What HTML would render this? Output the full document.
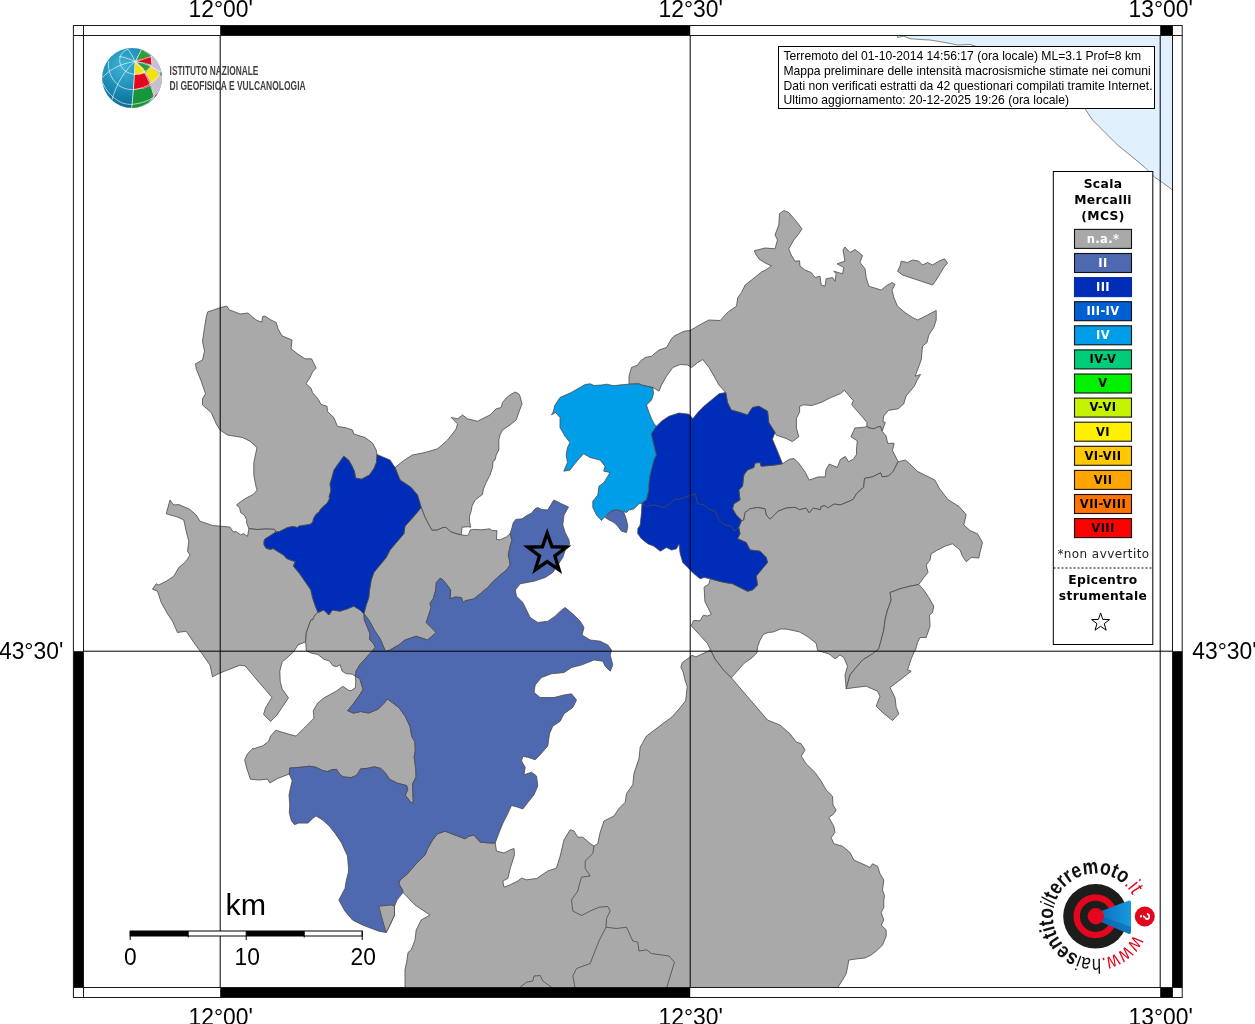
<!DOCTYPE html>
<html lang="it"><head><meta charset="utf-8"><title>Mappa intensità macrosismiche</title>
<style>
html,body{margin:0;padding:0;background:#fff}
body{width:1255px;height:1024px;overflow:hidden;position:relative}
svg{display:block;position:absolute;left:0;top:0}
text{font-family:"Liberation Sans",sans-serif}
.ax{font-size:24.2px;fill:#000}
.dv,.dv text{font-family:"DejaVu Sans",sans-serif}
.lg{font-family:"DejaVu Sans",sans-serif;font-weight:bold;font-size:11.5px;text-anchor:middle;letter-spacing:0.4px}
.info{font-size:12.15px;fill:#000}
</style></head><body>
<svg width="1255" height="1024" viewBox="0 0 1255 1024">
<defs><clipPath id="mapclip"><rect x="83.5" y="35.5" width="1089" height="952"/></clipPath>
<radialGradient id="gl" cx="0.35" cy="0.3" r="0.8"><stop offset="0" stop-color="#3fb4d6"/><stop offset="0.6" stop-color="#1583ac"/><stop offset="1" stop-color="#0a5d86"/></radialGradient>
<linearGradient id="cone" x1="0" x2="1" y1="0" y2="0"><stop offset="0" stop-color="#0a6fc0"/><stop offset="1" stop-color="#1a9ade"/></linearGradient>
</defs>
<rect width="1255" height="1024" fill="#fff"/>
<g clip-path="url(#mapclip)">

<path d="M897.5 37.5 L903.7 36.2 L910.0 38.7 L920.0 39.5 L930.0 40.0 L945.0 42.5 L957.5 45.0 L970.0 44.5 L975.0 46.0 L1085.0 108.7 L1092.5 120.0 L1105.0 132.5 L1117.5 145.0 L1130.0 155.0 L1145.0 167.5 L1155.0 177.5 L1162.5 182.5 L1172.5 190.0 L1180.0 190.0 L1180.0 30.0 L897.5 30.0Z" fill="#e0f1fd" stroke="#6a6a6a" stroke-width="0.8"/>
<path d="M403.0 892.5 L402.5 890.0 L398.8 883.8 L400.0 880.0 L407.5 873.8 L415.0 865.0 L425.0 855.0 L427.5 848.8 L432.5 840.0 L437.5 833.8 L445.0 831.2 L455.0 835.0 L465.0 838.8 L468.8 836.2 L473.8 835.0 L480.0 842.0 L490.0 843.0 L495.2 843.0 L496.5 851.0 L504.0 853.0 L510.2 849.8 L514.0 848.5 L514.5 854.8 L510.2 868.5 L507.8 878.5 L502.8 881.0 L504.0 887.2 L510.2 884.8 L517.8 881.0 L521.5 878.0 L526.5 879.8 L536.5 878.5 L547.8 871.0 L556.5 868.0 L560.2 856.0 L564.0 839.8 L570.2 829.8 L574.0 831.0 L577.8 837.2 L582.8 837.2 L590.2 843.5 L594.0 846.0 L597.8 843.5 L600.2 832.2 L604.0 821.0 L614.0 816.0 L619.0 808.5 L625.2 802.2 L626.5 793.5 L632.8 784.8 L634.0 773.5 L639.0 758.5 L640.2 747.2 L646.5 736.0 L662.4 724.0 L672.0 716.9 L678.4 709.7 L685.6 700.9 L686.4 694.5 L687.2 686.5 L684.8 679.3 L683.2 672.1 L680.8 667.3 L682.4 662.5 L688.0 658.5 L692.0 655.3 L696.0 656.9 L700.8 654.5 L706.4 652.1 L710.5 649.7 L715.3 659.3 L723.3 669.7 L731.3 677.7 L745.0 693.8 L760.0 711.2 L767.5 720.0 L780.0 725.0 L790.0 733.8 L796.2 742.0 L801.2 743.8 L805.0 750.0 L801.2 756.2 L806.2 763.8 L815.0 772.5 L821.2 781.2 L826.2 790.0 L832.5 796.2 L833.0 805.0 L836.2 810.0 L833.8 813.8 L828.8 817.5 L833.8 826.2 L835.0 832.5 L831.2 837.5 L833.8 843.8 L842.5 846.2 L850.0 852.5 L853.8 860.0 L865.0 865.0 L870.0 867.5 L872.5 863.8 L877.5 866.2 L880.0 873.8 L883.8 880.0 L882.5 890.0 L884.5 895.8 L883.8 900.0 L883.8 907.5 L881.2 912.5 L883.8 920.0 L881.2 925.0 L886.2 930.0 L886.2 936.2 L882.5 945.0 L877.5 950.0 L871.2 955.0 L865.0 958.0 L857.5 958.8 L848.8 960.0 L847.5 967.5 L846.2 973.8 L842.5 980.0 L836.2 990.0 L405.0 990.0 L405.0 970.0 L407.0 960.0 L408.0 952.5 L411.2 950.0 L415.0 940.0 L416.2 930.0 L421.2 920.0 L430.0 915.0 L415.0 905.0Z" fill="#a9a9a9" stroke="#4a4a4a" stroke-width="0.8" stroke-linejoin="round"/>
<path d="M207.5 312.0 L215.0 309.5 L220.5 307.5 L227.0 306.2 L229.5 310.0 L235.0 312.0 L240.0 314.0 L248.0 313.0 L252.5 317.0 L257.0 320.5 L262.0 322.0 L262.5 316.5 L265.0 316.0 L270.0 319.5 L276.2 322.5 L278.0 328.8 L282.0 335.8 L292.0 340.0 L291.0 348.8 L297.5 353.8 L305.0 358.8 L311.5 358.8 L316.2 368.0 L312.5 372.0 L310.0 377.5 L306.0 383.8 L311.0 388.2 L312.5 392.5 L318.5 399.5 L321.0 404.5 L327.0 406.2 L327.5 411.5 L333.8 417.5 L337.5 426.5 L345.0 427.5 L352.5 430.0 L353.8 434.0 L365.0 437.5 L372.5 443.0 L376.2 450.0 L377.0 454.5 L376.5 462.5 L374.0 468.5 L369.5 475.0 L361.5 479.2 L355.5 478.0 L354.5 471.5 L351.5 465.0 L348.5 460.0 L343.8 456.2 L340.0 461.5 L334.0 470.0 L332.0 477.5 L330.0 484.0 L331.0 490.0 L329.0 497.5 L330.0 497.8 L327.5 502.7 L321.7 508.0 L319.7 510.5 L319.2 512.0 L316.3 514.0 L313.4 518.8 L312.9 522.2 L310.0 524.4 L299.2 526.1 L297.3 527.6 L295.3 526.9 L292.4 526.6 L287.5 527.6 L279.7 531.5 L275.3 532.2 L275.6 530.5 L273.8 529.3 L266.0 529.0 L257.2 529.5 L251.4 528.9 L248.9 528.9 L246.7 523.2 L246.5 519.3 L244.5 515.4 L240.6 512.5 L239.6 507.6 L236.5 505.1 L240.6 501.7 L246.5 497.8 L253.3 494.4 L257.2 490.0 L256.2 487.5 L253.8 475.0 L253.8 462.5 L257.0 447.5 L250.0 441.2 L242.5 437.5 L227.5 435.0 L220.0 430.0 L216.2 423.8 L211.2 412.5 L202.5 405.0 L202.5 398.8 L205.5 393.8 L201.2 381.2 L196.2 368.8 L195.5 363.8 L202.5 360.0 L204.5 351.2 L202.5 341.2 L204.5 327.5 L206.2 317.5Z" fill="#a9a9a9" stroke="#4a4a4a" stroke-width="0.8" stroke-linejoin="round"/>
<path d="M248.9 528.9 L247.5 536.4 L243.6 533.5 L240.6 534.9 L236.2 531.5 L233.3 532.0 L229.9 527.1 L225.0 526.6 L220.5 526.2 L212.5 525.5 L200.0 521.2 L196.2 515.0 L190.0 509.5 L178.8 504.5 L173.8 505.0 L170.0 500.0 L166.2 513.8 L177.5 517.0 L183.8 520.0 L186.2 531.2 L188.8 541.2 L187.5 551.2 L190.0 555.0 L186.2 561.2 L178.8 567.5 L173.8 576.2 L166.2 581.2 L158.8 585.0 L156.2 583.8 L152.5 589.2 L157.5 591.2 L161.2 602.5 L167.5 613.8 L172.5 621.2 L177.5 632.5 L186.2 631.2 L193.8 642.5 L201.2 652.5 L210.0 665.0 L212.5 676.8 L220.0 673.0 L227.5 670.0 L240.0 665.2 L245.1 665.9 L259.1 682.5 L271.9 697.2 L265.5 708.0 L263.6 714.4 L270.6 721.4 L277.0 715.0 L288.5 697.8 L282.1 688.9 L280.2 681.2 L279.8 671.0 L282.1 662.1 L293.6 651.9 L298.0 644.9 L305.7 641.9 L306.3 632.8 L310.8 620.0 L312.5 620.0 L315.0 615.0 L318.0 612.5 L315.0 605.0 L312.5 597.5 L310.9 590.0 L306.0 582.8 L299.2 573.0 L293.4 566.2 L295.3 561.3 L292.4 560.8 L286.5 558.4 L283.6 554.9 L277.7 551.5 L273.3 548.6 L269.9 549.4 L266.0 548.1 L264.0 544.7 L264.0 541.8 L264.6 539.3 L269.9 535.9 L274.8 532.8 L275.3 532.2 L275.6 530.5 L273.8 529.3 L266.0 529.0 L257.2 529.5 L251.4 528.9Z" fill="#a9a9a9" stroke="#4a4a4a" stroke-width="0.8" stroke-linejoin="round"/>
<path d="M318.0 612.5 L323.8 610.0 L328.8 615.0 L332.5 610.0 L340.0 611.2 L347.5 608.8 L353.8 606.2 L360.0 610.0 L363.8 613.8 L364.4 620.0 L367.6 627.7 L370.1 634.0 L369.5 639.1 L373.9 644.2 L375.2 647.4 L371.4 651.9 L359.9 664.6 L356.1 671.0 L355.4 676.1 L352.2 674.2 L345.9 673.6 L342.0 671.0 L340.1 664.6 L336.9 666.6 L333.1 665.9 L329.3 660.8 L324.2 659.5 L317.8 654.4 L311.4 653.2 L306.3 650.6 L305.7 641.9 L306.3 632.8 L310.8 620.0 L312.5 620.0 L315.0 615.0Z" fill="#a9a9a9" stroke="#4a4a4a" stroke-width="0.8" stroke-linejoin="round"/>
<path d="M421.2 507.5 L421.9 508.8 L425.0 516.9 L428.8 524.4 L431.9 530.1 L437.5 529.8 L443.2 527.3 L446.3 527.5 L450.1 531.3 L455.1 533.2 L461.3 534.8 L467.6 535.7 L469.5 532.6 L470.1 530.1 L473.8 529.4 L481.4 529.8 L490.1 528.8 L491.4 530.3 L497.0 530.7 L496.4 539.4 L500.1 539.8 L506.4 536.9 L510.1 533.8 L512.0 540.0 L510.1 546.3 L508.3 555.1 L509.5 560.1 L510.1 565.1 L506.4 570.1 L500.1 575.1 L492.6 582.0 L487.6 587.6 L480.1 593.9 L473.8 598.9 L465.1 600.8 L463.2 602.6 L461.3 597.6 L455.1 597.0 L450.1 598.9 L450.7 590.1 L448.2 586.4 L442.6 579.5 L440.1 578.2 L436.3 582.6 L435.7 590.1 L433.2 598.9 L430.0 603.3 L431.2 607.5 L426.2 622.5 L436.2 632.5 L427.5 640.0 L416.2 636.2 L405.0 640.0 L398.7 645.0 L390.0 650.0 L386.2 651.2 L385.4 651.3 L380.3 639.1 L375.2 631.5 L368.8 620.0 L364.0 613.8 L366.2 605.0 L368.8 597.5 L369.5 590.0 L371.2 580.0 L373.8 572.5 L380.0 565.0 L386.2 557.5 L390.0 550.0 L397.5 541.2 L403.8 533.8 L405.0 526.2 L415.0 515.0Z" fill="#a9a9a9" stroke="#4a4a4a" stroke-width="0.8" stroke-linejoin="round"/>
<path d="M395.0 467.5 L401.2 462.5 L406.2 458.8 L412.5 455.0 L425.0 452.5 L437.5 448.8 L442.5 444.5 L447.5 440.0 L452.5 433.8 L456.2 428.8 L457.5 423.8 L451.2 417.5 L457.5 418.8 L462.5 415.0 L467.5 418.8 L477.5 421.2 L483.8 418.0 L490.0 415.0 L496.2 408.8 L501.2 407.5 L502.5 402.5 L506.2 398.0 L510.0 395.0 L515.0 392.0 L518.8 393.8 L520.0 396.2 L522.0 403.8 L518.8 412.5 L516.2 420.0 L510.0 425.0 L502.5 430.0 L500.0 435.0 L498.8 440.0 L498.8 450.0 L496.2 455.0 L495.0 460.0 L493.0 461.2 L492.5 467.5 L490.0 475.0 L486.2 482.5 L483.0 490.0 L483.2 490.0 L482.6 494.4 L475.1 500.0 L472.0 506.3 L471.3 510.7 L469.5 516.3 L469.5 521.3 L470.7 527.2 L467.6 526.7 L462.0 527.3 L461.3 534.8 L455.1 533.2 L450.1 531.3 L446.3 527.5 L443.2 527.3 L437.5 529.8 L431.9 530.1 L428.8 524.4 L425.0 516.9 L421.9 508.8 L421.2 507.5 L417.5 495.0 L411.2 487.5 L400.0 480.0Z" fill="#a9a9a9" stroke="#4a4a4a" stroke-width="0.8" stroke-linejoin="round"/>
<path d="M355.4 676.1 L355.8 681.0 L355.4 687.6 L351.0 690.8 L348.4 690.2 L342.7 686.3 L336.9 690.8 L324.2 697.8 L317.8 702.9 L313.3 710.6 L314.0 718.2 L310.2 722.0 L303.8 728.4 L296.1 736.1 L291.0 734.8 L275.7 730.3 L270.6 736.1 L268.7 741.2 L263.0 745.7 L253.0 749.0 L253.1 748.2 L247.5 753.7 L244.7 760.1 L246.7 768.1 L250.4 779.2 L258.7 780.0 L267.5 779.2 L269.8 782.9 L277.8 778.4 L289.3 774.0 L289.8 768.1 L300.1 767.3 L309.7 766.2 L316.1 767.3 L322.4 770.5 L327.2 771.6 L332.0 769.7 L336.5 769.4 L339.2 773.7 L343.1 776.9 L351.1 777.6 L356.7 775.3 L360.7 768.9 L367.1 768.4 L374.2 766.8 L380.6 768.4 L385.4 772.9 L389.4 779.2 L397.3 783.2 L406.6 785.6 L407.7 789.6 L405.3 795.2 L410.1 801.6 L413.3 803.5 L412.9 792.0 L412.5 784.0 L416.1 776.9 L415.7 768.1 L414.1 756.9 L415.3 750.6 L414.9 741.8 L411.7 736.2 L410.1 726.7 L405.3 716.3 L398.9 707.5 L392.5 702.7 L387.0 698.8 L384.6 702.7 L378.2 709.1 L368.6 713.1 L360.7 711.5 L353.5 713.1 L347.6 710.7 L352.5 705.0 L358.6 696.5 L363.1 689.5 L359.9 678.7Z" fill="#a9a9a9" stroke="#4a4a4a" stroke-width="0.8" stroke-linejoin="round"/>
<path d="M629.0 384.2 L629.0 376.2 L631.5 367.5 L637.8 365.0 L640.2 361.2 L645.2 357.5 L651.5 356.2 L659.0 350.0 L666.5 347.5 L671.5 338.8 L674.0 336.2 L684.0 331.2 L690.2 330.5 L695.2 327.5 L704.0 322.5 L709.0 320.0 L720.2 320.5 L725.2 315.0 L729.0 311.2 L736.5 306.2 L737.8 297.5 L741.5 292.5 L745.2 285.0 L751.5 280.0 L757.8 275.0 L761.5 272.0 L766.0 269.8 L771.5 266.0 L765.2 263.0 L759.2 259.2 L756.0 254.5 L754.2 250.8 L765.0 248.0 L775.0 248.8 L777.5 240.0 L775.0 235.0 L778.8 225.0 L779.5 213.8 L783.8 210.5 L788.8 212.5 L796.2 221.2 L802.0 228.8 L798.8 233.8 L793.8 240.0 L788.8 248.8 L791.2 255.0 L795.0 261.2 L799.5 260.8 L800.0 266.2 L805.0 270.0 L811.2 272.5 L815.0 277.5 L820.0 276.2 L821.2 285.0 L825.0 286.2 L826.2 278.8 L832.5 277.5 L835.0 281.2 L836.2 273.8 L833.8 271.2 L842.5 273.8 L843.8 267.5 L837.0 263.8 L845.0 261.2 L843.0 250.0 L845.0 247.0 L850.0 252.5 L855.0 249.5 L862.5 255.5 L860.0 262.5 L865.0 268.8 L866.2 277.5 L868.8 286.2 L881.2 290.0 L887.5 285.0 L892.0 282.5 L895.0 284.5 L892.0 290.0 L893.8 297.5 L897.5 306.2 L905.0 312.5 L912.5 317.5 L917.5 320.0 L927.5 315.0 L936.2 310.5 L936.2 320.0 L933.8 327.5 L928.8 335.0 L927.0 342.5 L922.5 346.2 L921.2 360.0 L917.5 370.0 L915.0 376.2 L920.5 374.5 L917.0 380.5 L914.1 386.4 L906.1 396.0 L903.7 404.0 L898.1 408.8 L888.5 410.4 L883.7 416.0 L882.9 421.6 L885.3 422.4 L882.1 431.2 L880.5 426.4 L877.3 427.2 L874.1 428.8 L869.3 428.0 L866.9 426.4 L866.9 422.4 L862.9 417.6 L858.1 412.0 L851.7 404.8 L853.3 400.8 L849.3 396.0 L844.5 390.4 L840.5 393.6 L830.8 397.6 L821.2 402.4 L811.6 405.6 L803.6 404.8 L799.6 406.4 L799.6 412.0 L796.4 418.4 L796.4 428.0 L798.8 436.8 L792.4 441.6 L786.0 438.4 L776.4 435.2 L775.0 432.5 L768.8 422.5 L767.5 411.2 L758.8 406.2 L752.5 407.5 L747.5 415.0 L740.0 412.5 L731.2 410.0 L727.5 402.5 L725.7 392.5 L719.0 385.0 L714.0 376.2 L709.0 367.5 L702.8 359.5 L697.8 362.5 L691.5 367.5 L687.8 365.0 L680.2 364.5 L672.8 367.5 L666.5 376.2 L661.5 385.0 L659.0 391.2 L652.8 387.5 L646.5 386.2 L641.5 385.0 L639.0 383.8Z" fill="#a9a9a9" stroke="#4a4a4a" stroke-width="0.8" stroke-linejoin="round"/>
<path d="M901.2 261.2 L907.5 262.5 L912.5 260.0 L918.8 261.2 L922.5 265.0 L927.5 262.5 L932.5 265.0 L938.8 261.2 L944.5 258.8 L947.5 263.0 L943.8 267.5 L940.0 273.8 L936.2 280.0 L932.5 285.0 L925.0 282.5 L917.5 280.0 L910.0 277.5 L902.5 275.0 L897.5 271.2 L900.0 266.2Z" fill="#a9a9a9" stroke="#4a4a4a" stroke-width="0.8" stroke-linejoin="round"/>
<path d="M741.2 521.2 L741.2 520.0 L736.2 515.0 L732.5 508.8 L733.8 503.8 L740.0 500.0 L738.8 490.0 L742.5 486.2 L743.8 475.0 L747.5 470.0 L753.8 467.5 L755.0 463.0 L760.0 462.5 L761.2 466.2 L775.0 465.0 L782.5 463.7 L789.2 459.3 L794.0 458.5 L798.8 463.3 L805.2 472.1 L809.2 480.1 L818.0 476.9 L825.2 476.9 L826.0 469.7 L829.2 464.1 L837.3 467.3 L840.5 459.3 L845.3 456.5 L848.5 461.7 L853.3 459.3 L856.5 454.5 L856.5 448.9 L857.3 440.8 L850.9 436.8 L854.9 428.0 L864.5 427.2 L866.9 426.4 L869.3 428.0 L874.1 428.8 L877.3 427.2 L880.5 426.4 L882.1 431.2 L886.1 436.0 L887.7 443.3 L894.1 443.3 L892.5 450.5 L898.1 461.7 L893.3 471.3 L888.5 476.1 L882.1 476.9 L880.5 472.9 L872.5 476.9 L864.5 478.5 L863.7 487.3 L856.5 493.7 L853.3 499.3 L850.1 500.9 L840.5 504.9 L834.1 504.1 L827.6 508.1 L825.2 505.7 L821.2 506.5 L820.4 509.7 L813.2 508.1 L809.2 512.9 L806.0 508.1 L799.6 509.7 L794.8 507.3 L786.0 508.1 L778.0 511.3 L773.2 516.1 L770.0 519.3 L766.2 515.0 L765.0 508.8 L757.5 507.5 L750.0 508.8 L745.0 512.5 L743.8 520.0Z" fill="#a9a9a9" stroke="#4a4a4a" stroke-width="0.8" stroke-linejoin="round"/>
<path d="M741.2 521.2 L743.8 520.0 L745.0 512.5 L750.0 508.8 L757.5 507.5 L765.0 508.8 L766.2 515.0 L770.0 519.3 L773.2 516.1 L778.0 511.3 L786.0 508.1 L794.8 507.3 L799.6 509.7 L806.0 508.1 L809.2 512.9 L813.2 508.1 L820.4 509.7 L821.2 506.5 L825.2 505.7 L827.6 508.1 L834.1 504.1 L840.5 504.9 L850.1 500.9 L853.3 499.3 L856.5 493.7 L863.7 487.3 L864.5 478.5 L872.5 476.9 L880.5 472.9 L882.1 476.9 L888.5 476.1 L893.3 471.3 L898.1 461.7 L905.3 460.1 L909.3 463.3 L917.3 471.3 L930.1 477.7 L934.9 480.1 L939.7 488.9 L947.7 499.3 L959.0 506.5 L966.2 514.5 L963.8 524.9 L970.0 530.5 L977.5 533.8 L982.5 542.5 L980.0 552.5 L978.8 558.0 L971.2 557.5 L966.2 561.8 L962.5 556.2 L960.0 550.0 L952.5 543.8 L945.0 546.2 L937.5 550.0 L931.2 553.8 L930.0 560.0 L926.2 565.0 L928.0 572.5 L923.8 577.5 L918.8 584.5 L910.0 586.2 L900.0 588.8 L893.8 591.2 L890.0 592.5 L891.2 600.0 L887.5 610.0 L885.0 620.0 L883.8 630.0 L881.2 640.0 L878.8 648.8 L872.5 653.8 L862.5 660.0 L855.0 668.8 L850.0 675.0 L846.2 688.8 L845.0 675.0 L847.5 666.2 L843.8 657.5 L840.0 655.0 L835.0 658.8 L828.8 653.8 L822.5 652.0 L817.7 650.5 L816.1 643.3 L808.1 636.9 L800.1 632.1 L787.3 629.2 L780.9 628.9 L772.9 632.1 L768.1 632.4 L763.3 634.5 L760.1 640.1 L757.7 646.5 L756.9 652.9 L752.1 657.7 L744.1 663.3 L737.7 670.5 L731.3 677.7 L723.3 669.7 L715.3 659.3 L710.5 649.7 L707.3 643.3 L700.0 635.3 L691.2 625.7 L693.6 620.5 L700.0 620.8 L703.3 615.2 L707.3 616.0 L711.3 614.4 L704.9 601.6 L704.1 587.2 L708.9 584.0 L710.2 578.7 L719.0 581.2 L725.0 582.5 L732.5 583.7 L740.0 587.5 L747.5 591.2 L752.5 590.0 L757.5 585.0 L756.2 576.2 L761.2 570.0 L767.5 562.5 L766.2 557.5 L760.0 551.2 L750.0 550.0 L746.2 542.5 L737.5 538.7 L740.0 533.7 L738.7 527.5Z" fill="#a9a9a9" stroke="#4a4a4a" stroke-width="0.8" stroke-linejoin="round"/>
<path d="M918.8 584.5 L910.0 586.2 L900.0 588.8 L893.8 591.2 L890.0 592.5 L891.2 600.0 L887.5 610.0 L885.0 620.0 L883.8 630.0 L881.2 640.0 L878.8 648.8 L872.5 653.8 L862.5 660.0 L855.0 668.8 L850.0 675.0 L846.2 688.8 L855.0 687.5 L866.2 686.2 L877.5 691.2 L880.0 696.2 L876.2 706.2 L882.5 712.5 L892.5 720.5 L898.8 713.8 L896.2 707.5 L895.0 697.5 L890.0 687.5 L900.0 680.0 L911.2 671.2 L907.5 670.0 L911.2 658.8 L915.0 650.0 L915.5 650.0 L917.5 642.5 L920.0 637.5 L926.2 637.5 L930.0 626.2 L929.5 615.0 L932.5 612.5 L933.8 606.2 L928.8 597.5 L923.8 590.0Z" fill="#a9a9a9" stroke="#4a4a4a" stroke-width="0.8" stroke-linejoin="round"/>
<path d="M510.1 533.8 L512.0 527.5 L513.3 522.5 L515.8 519.4 L522.0 518.8 L526.4 515.7 L531.4 513.2 L535.2 508.8 L537.7 507.5 L541.4 509.4 L547.7 510.0 L550.8 505.0 L553.3 500.6 L554.0 500.0 L561.5 503.8 L568.5 507.0 L564.0 515.0 L562.8 525.0 L565.2 532.5 L569.0 540.0 L569.5 544.5 L565.2 550.0 L562.8 557.5 L557.8 565.0 L552.8 572.5 L545.2 577.5 L534.0 581.2 L520.2 583.8 L515.2 590.0 L516.5 596.2 L522.8 602.5 L526.5 610.0 L530.2 617.5 L537.8 622.5 L547.8 621.2 L555.2 616.2 L560.2 611.2 L565.2 607.5 L574.0 615.0 L580.2 621.2 L584.0 627.5 L582.0 635.0 L590.2 640.0 L600.2 641.2 L607.8 645.0 L611.5 650.0 L610.2 655.0 L612.8 665.0 L610.2 671.2 L605.2 666.2 L602.8 661.2 L594.0 660.0 L581.5 665.0 L571.5 667.5 L564.0 672.5 L551.5 673.8 L541.5 677.5 L535.2 685.0 L534.0 692.5 L540.2 697.5 L554.0 697.5 L564.0 695.0 L571.5 693.8 L576.5 700.0 L572.8 707.5 L564.0 713.8 L560.2 721.2 L552.8 726.2 L549.5 733.8 L547.8 746.0 L539.0 756.0 L535.2 759.8 L527.8 757.2 L522.8 756.5 L521.5 761.0 L525.2 767.2 L524.0 774.8 L531.5 772.2 L536.5 776.0 L537.8 786.0 L534.0 794.8 L529.0 801.0 L522.8 809.0 L517.8 807.2 L511.5 805.5 L507.8 813.5 L502.8 823.5 L500.2 829.8 L497.8 836.0 L495.2 843.0 L490.0 843.0 L480.0 842.0 L473.8 835.0 L468.8 836.2 L465.0 838.8 L455.0 835.0 L445.0 831.2 L437.5 833.8 L432.5 840.0 L427.5 848.8 L425.0 855.0 L415.0 865.0 L407.5 873.8 L400.0 880.0 L398.8 883.8 L402.5 890.0 L403.0 892.5 L397.0 900.0 L394.5 906.2 L394.5 915.0 L390.0 925.0 L386.2 932.5 L378.8 931.2 L362.5 925.0 L352.5 920.0 L345.0 911.2 L338.8 900.0 L345.0 888.5 L346.2 881.0 L348.7 871.0 L347.5 856.0 L344.7 850.0 L341.6 843.0 L335.2 833.4 L328.8 825.5 L322.4 819.9 L316.1 815.9 L312.9 818.3 L308.1 823.1 L298.5 823.1 L294.5 824.7 L291.4 820.7 L289.3 812.7 L289.8 804.7 L289.0 795.2 L290.6 787.2 L292.2 780.8 L289.3 774.0 L289.8 768.1 L300.1 767.3 L309.7 766.2 L316.1 767.3 L322.4 770.5 L327.2 771.6 L332.0 769.7 L336.5 769.4 L339.2 773.7 L343.1 776.9 L351.1 777.6 L356.7 775.3 L360.7 768.9 L367.1 768.4 L374.2 766.8 L380.6 768.4 L385.4 772.9 L389.4 779.2 L397.3 783.2 L406.6 785.6 L407.7 789.6 L405.3 795.2 L410.1 801.6 L413.3 803.5 L412.9 792.0 L412.5 784.0 L416.1 776.9 L415.7 768.1 L414.1 756.9 L415.3 750.6 L414.9 741.8 L411.7 736.2 L410.1 726.7 L405.3 716.3 L398.9 707.5 L392.5 702.7 L387.0 698.8 L384.6 702.7 L378.2 709.1 L368.6 713.1 L360.7 711.5 L353.5 713.1 L347.6 710.7 L352.5 705.0 L358.6 696.5 L363.1 689.5 L359.9 678.7 L355.4 676.1 L356.1 671.0 L359.9 664.6 L371.4 651.9 L375.2 647.4 L373.9 644.2 L369.5 639.1 L370.1 634.0 L367.6 627.7 L364.4 620.0 L364.0 613.8 L368.8 620.0 L375.2 631.5 L380.3 639.1 L385.4 651.3 L386.2 651.2 L390.0 650.0 L398.7 645.0 L405.0 640.0 L416.2 636.2 L427.5 640.0 L436.2 632.5 L426.2 622.5 L431.2 607.5 L430.0 603.3 L433.2 598.9 L435.7 590.1 L436.3 582.6 L440.1 578.2 L442.6 579.5 L448.2 586.4 L450.7 590.1 L450.1 598.9 L455.1 597.0 L461.3 597.6 L463.2 602.6 L465.1 600.8 L473.8 598.9 L480.1 593.9 L487.6 587.6 L492.6 582.0 L500.1 575.1 L506.4 570.1 L510.1 565.1 L509.5 560.1 L508.3 555.1 L510.1 546.3 L512.0 540.0Z" fill="#4f69b0" stroke="#4a4a4a" stroke-width="0.8" stroke-linejoin="round"/>
<path d="M378.8 906.2 L391.2 905.0 L394.5 906.2 L394.5 915.0 L390.0 925.0 L386.2 932.5 L382.5 920.0Z" fill="#a9a9a9" stroke="#4a4a4a" stroke-width="0.8" stroke-linejoin="round"/>
<path d="M611.0 511.2 L616.5 509.5 L624.0 512.5 L626.5 520.0 L627.8 526.2 L626.5 532.5 L621.5 531.2 L617.8 526.2 L614.0 522.5 L609.0 520.0 L605.2 517.5Z" fill="#4f69b0" stroke="#4a4a4a" stroke-width="0.8" stroke-linejoin="round"/>
<path d="M585.2 384.5 L590.2 383.8 L594.0 385.5 L601.5 385.0 L606.5 384.2 L614.0 385.8 L619.0 385.0 L629.0 384.2 L639.0 383.8 L641.5 385.0 L646.5 386.2 L652.8 387.5 L653.5 393.8 L651.5 400.0 L646.5 405.0 L649.0 412.5 L651.5 418.8 L654.0 423.8 L656.5 426.2 L651.5 433.8 L652.8 440.0 L654.0 445.0 L656.5 455.0 L654.0 460.0 L652.8 465.0 L650.2 475.0 L649.0 485.0 L649.0 490.0 L646.5 500.0 L642.0 503.0 L639.0 503.8 L634.0 508.8 L629.0 510.0 L626.5 512.5 L616.5 509.5 L611.0 511.2 L604.0 517.5 L601.5 520.5 L596.5 515.0 L592.8 507.5 L592.8 501.2 L597.8 495.0 L599.0 486.2 L604.0 482.5 L610.0 472.5 L603.8 471.2 L605.0 466.2 L600.0 460.0 L590.0 457.5 L583.8 453.8 L580.0 457.5 L573.8 465.0 L570.0 470.0 L563.8 471.2 L567.5 462.5 L566.2 455.0 L567.5 447.5 L570.0 442.5 L565.0 436.2 L560.0 427.5 L560.0 417.5 L555.5 412.5 L551.5 414.8 L553.2 412.0 L555.0 405.0 L560.0 397.5 L571.2 392.5Z" fill="#009ee8" stroke="#4a4a4a" stroke-width="0.8" stroke-linejoin="round"/>
<path d="M275.3 532.2 L279.7 531.5 L287.5 527.6 L292.4 526.6 L295.3 526.9 L297.3 527.6 L299.2 526.1 L310.0 524.4 L312.9 522.2 L313.4 518.8 L316.3 514.0 L319.2 512.0 L319.7 510.5 L321.7 508.0 L327.5 502.7 L330.0 497.8 L329.0 497.5 L331.0 490.0 L330.0 484.0 L332.0 477.5 L334.0 470.0 L340.0 461.5 L343.8 456.2 L348.5 460.0 L351.5 465.0 L354.5 471.5 L355.5 478.0 L361.5 479.2 L369.5 475.0 L374.0 468.5 L376.5 462.5 L377.0 454.5 L390.0 460.0 L395.0 467.5 L400.0 480.0 L411.2 487.5 L417.5 495.0 L421.2 507.5 L415.0 515.0 L405.0 526.2 L403.8 533.8 L397.5 541.2 L390.0 550.0 L386.2 557.5 L380.0 565.0 L373.8 572.5 L371.2 580.0 L369.5 590.0 L368.8 597.5 L366.2 605.0 L363.8 613.8 L360.0 610.0 L353.8 606.2 L347.5 608.8 L340.0 611.2 L332.5 610.0 L328.8 615.0 L323.8 610.0 L318.0 612.5 L315.0 605.0 L312.5 597.5 L310.9 590.0 L306.0 582.8 L299.2 573.0 L293.4 566.2 L295.3 561.3 L292.4 560.8 L286.5 558.4 L283.6 554.9 L277.7 551.5 L273.3 548.6 L269.9 549.4 L266.0 548.1 L264.0 544.7 L264.0 541.8 L264.6 539.3 L269.9 535.9 L274.8 532.8Z" fill="#002db7" stroke="#4a4a4a" stroke-width="0.8" stroke-linejoin="round"/>
<path d="M656.5 426.2 L661.5 421.2 L669.0 416.2 L679.0 413.0 L689.0 414.2 L692.8 418.8 L697.8 412.5 L704.0 406.2 L711.5 400.0 L719.0 393.8 L725.7 392.5 L727.5 402.5 L731.2 410.0 L740.0 412.5 L747.5 415.0 L752.5 407.5 L758.8 406.2 L767.5 411.2 L768.8 422.5 L775.0 432.5 L772.4 439.2 L777.2 450.5 L782.5 463.7 L775.0 465.0 L761.2 466.2 L760.0 462.5 L755.0 463.0 L753.8 467.5 L747.5 470.0 L743.8 475.0 L742.5 486.2 L738.8 490.0 L740.0 500.0 L733.8 503.8 L732.5 508.8 L736.2 515.0 L741.2 520.0 L741.2 521.2 L738.7 527.5 L740.0 533.7 L737.5 538.7 L746.2 542.5 L750.0 550.0 L760.0 551.2 L766.2 557.5 L767.5 562.5 L761.2 570.0 L756.2 576.2 L757.5 585.0 L752.5 590.0 L747.5 591.2 L740.0 587.5 L732.5 583.7 L725.0 582.5 L719.0 581.2 L710.2 578.7 L704.0 577.5 L700.2 578.8 L694.0 573.8 L687.8 567.5 L682.8 562.5 L680.2 553.8 L679.0 543.8 L676.5 548.8 L671.5 550.0 L666.5 547.5 L660.2 551.2 L654.0 546.2 L647.8 543.8 L641.5 538.8 L637.8 533.8 L637.8 528.8 L640.2 525.0 L641.5 512.5 L642.0 503.0 L646.5 500.0 L649.0 490.0 L649.0 485.0 L650.2 475.0 L652.8 465.0 L654.0 460.0 L656.5 455.0 L654.0 445.0 L652.8 440.0 L651.5 433.8Z" fill="#002db7" stroke="#4a4a4a" stroke-width="0.8" stroke-linejoin="round"/>
<path d="M594.0 846.0 L592.8 853.5 L585.2 861.0 L585.2 868.5 L590.2 876.0 L581.5 877.2 L579.0 886.0 L577.8 891.0 L571.5 899.8 L572.8 911.0 L581.5 915.5 L590.2 911.0 L599.0 907.2 L607.8 906.5 L610.2 911.0 L606.5 918.5 L606.0 927.2 L616.5 928.5 L626.5 927.2 L632.8 941.0 L637.8 942.2 L639.0 951.0 L646.5 949.8 L651.5 953.5 L669.0 956.0 L674.5 962.2 L670.2 976.0 L666.5 988.5" fill="none" stroke="#4a4a4a" stroke-width="0.8" stroke-linejoin="round"/>
<path d="M606.0 927.2 L599.0 941.0 L594.0 953.5 L590.2 963.5 L576.5 968.5 L572.8 976.0 L575.2 988.5" fill="none" stroke="#4a4a4a" stroke-width="0.8" stroke-linejoin="round"/>
<path d="M520.2 987.2 L526.5 982.2 L532.8 981.0 L534.0 976.0 L540.2 975.5 L542.8 981.0 L551.5 987.2" fill="none" stroke="#4a4a4a" stroke-width="0.8" stroke-linejoin="round"/>
<path d="M642.0 503.8 L646.5 506.2 L654.0 505.0 L664.0 507.5 L671.5 502.5 L675.2 498.8 L679.0 499.5 L687.8 496.2 L695.2 493.8 L697.8 503.8 L704.0 505.0 L709.0 509.5 L715.2 511.2 L719.0 520.0 L725.2 525.0 L731.5 526.2 L734.0 531.2 L737.8 528.0" fill="none" stroke="#4a4a4a" stroke-width="0.8" stroke-linejoin="round"/>
</g>
<g stroke="#000" stroke-width="1" fill="none">
<line x1="220.2" y1="35.5" x2="220.2" y2="987.5"/>
<line x1="690.2" y1="35.5" x2="690.2" y2="987.5"/>
<line x1="1160.2" y1="35.5" x2="1160.2" y2="987.5"/>
<line x1="83.5" y1="651.2" x2="1172.5" y2="651.2"/>
</g>
<path d="M547.2 533.1 L552.0 546.8 L566.5 547.1 L554.9 555.9 L559.1 569.8 L547.2 561.5 L535.3 569.8 L539.5 555.9 L527.9 547.1 L542.4 546.8Z" fill="none" stroke="#000" stroke-width="3.4" stroke-linejoin="miter"/>
<g fill="#000" stroke="none">
<rect x="220.2" y="25.5" width="470" height="10"/>
<rect x="1160.2" y="25.5" width="12.3" height="10"/>
<rect x="220.2" y="987.5" width="470" height="10"/>
<rect x="1160.2" y="987.5" width="12.3" height="10"/>
<rect x="73.5" y="651.2" width="10" height="336.3"/>
<rect x="1172.5" y="651.2" width="10" height="336.3"/>
</g>
<g fill="none" stroke="#1a1a1a" stroke-width="1">
<rect x="73.4" y="25.5" width="1108.8" height="972"/>
<path d="M73.5 35.5H1182.5M73.5 987.5H1182.5M83.5 25.5V997.5M1172.5 25.5V997.5"/>
</g>

<g class="ax">
<text transform="translate(220.7,16.5) scale(0.945,1)" text-anchor="middle">12°00'</text>
<text transform="translate(220.7,1024.5) scale(0.945,1)" text-anchor="middle">12°00'</text>
<text transform="translate(690.7,16.5) scale(0.945,1)" text-anchor="middle">12°30'</text>
<text transform="translate(690.7,1024.5) scale(0.945,1)" text-anchor="middle">12°30'</text>
<text transform="translate(1160.7,16.5) scale(0.945,1)" text-anchor="middle">13°00'</text>
<text transform="translate(1160.7,1024.5) scale(0.945,1)" text-anchor="middle">13°00'</text>
<text transform="translate(63.3,659.4) scale(0.945,1)" text-anchor="end">43°30'</text>
<text transform="translate(1192.3,659.4) scale(0.945,1)" text-anchor="start">43°30'</text>
</g>
<g>
<rect x="130.2" y="931" width="232" height="5" fill="#fff" stroke="#000" stroke-width="1"/>
<rect x="130.2" y="931" width="58" height="5" fill="#000"/>
<rect x="246.2" y="931" width="58" height="5" fill="#000"/>
<path d="M130.2 931V940M188.2 931V937.5M246.2 931V940M304.2 931V937.5M362.2 931V940" stroke="#000" stroke-width="1" fill="none"/>
<text transform="translate(130.4,965) scale(0.95,1)" font-size="24" text-anchor="middle">0</text>
<text transform="translate(247.2,965) scale(0.95,1)" font-size="24" text-anchor="middle">10</text>
<text transform="translate(363.2,965) scale(0.95,1)" font-size="24" text-anchor="middle">20</text>
<text x="245.7" y="915" font-size="30.4" text-anchor="middle">km</text>
</g>

<g>
<rect x="778.5" y="46.5" width="376" height="62" fill="#fff" stroke="#000" stroke-width="1"/>
<clipPath id="ibox"><rect x="779" y="47" width="375" height="61"/></clipPath>
<g class="info" clip-path="url(#ibox)">
<text x="783.5" y="60">Terremoto del 01-10-2014 14:56:17 (ora locale) ML=3.1 Prof=8 km</text>
<text x="783.5" y="74.8">Mappa preliminare delle intensità macrosismiche stimate nei comuni</text>
<text x="783.5" y="89.6">Dati non verificati estratti da 42 questionari compilati tramite Internet.</text>
<text x="783.5" y="104.4">Ultimo aggiornamento: 20-12-2025 19:26 (ora locale)</text>
</g></g>

<g><rect x="1053.3" y="171.5" width="99.5" height="473" fill="#fff" stroke="#000" stroke-width="1"/>
<g class="dv" font-weight="bold" font-size="12.3" letter-spacing="0.35" text-anchor="middle" fill="#000"><text x="1103" y="188">Scala</text><text x="1103" y="204">Mercalli</text><text x="1103" y="220">(MCS)</text></g>
<rect x="1074.5" y="229.4" width="57" height="19" fill="#a9a9a9" stroke="#111" stroke-width="1.1"/>
<text class="lg" x="1103" y="242.7" fill="#fff">n.a.*</text>
<rect x="1074.5" y="253.5" width="57" height="19" fill="#4f69b0" stroke="#111" stroke-width="1.1"/>
<text class="lg" x="1103" y="266.8" fill="#fff">II</text>
<rect x="1074.5" y="277.6" width="57" height="19" fill="#002db7" stroke="#002db7" stroke-width="1.1"/>
<text class="lg" x="1103" y="290.9" fill="#fff">III</text>
<rect x="1074.5" y="301.7" width="57" height="19" fill="#0060d2" stroke="#111" stroke-width="1.1"/>
<text class="lg" x="1103" y="315.0" fill="#fff">III-IV</text>
<rect x="1074.5" y="325.8" width="57" height="19" fill="#009ee8" stroke="#111" stroke-width="1.1"/>
<text class="lg" x="1103" y="339.1" fill="#fff">IV</text>
<rect x="1074.5" y="349.9" width="57" height="19" fill="#00cc7a" stroke="#111" stroke-width="1.1"/>
<text class="lg" x="1103" y="363.2" fill="#000">IV-V</text>
<rect x="1074.5" y="374.0" width="57" height="19" fill="#00f000" stroke="#111" stroke-width="1.1"/>
<text class="lg" x="1103" y="387.3" fill="#000">V</text>
<rect x="1074.5" y="398.1" width="57" height="19" fill="#c4f200" stroke="#111" stroke-width="1.1"/>
<text class="lg" x="1103" y="411.4" fill="#000">V-VI</text>
<rect x="1074.5" y="422.2" width="57" height="19" fill="#fff000" stroke="#111" stroke-width="1.1"/>
<text class="lg" x="1103" y="435.5" fill="#000">VI</text>
<rect x="1074.5" y="446.3" width="57" height="19" fill="#ffc800" stroke="#111" stroke-width="1.1"/>
<text class="lg" x="1103" y="459.6" fill="#000">VI-VII</text>
<rect x="1074.5" y="470.4" width="57" height="19" fill="#ffa500" stroke="#111" stroke-width="1.1"/>
<text class="lg" x="1103" y="483.7" fill="#000">VII</text>
<rect x="1074.5" y="494.5" width="57" height="19" fill="#ff7300" stroke="#111" stroke-width="1.1"/>
<text class="lg" x="1103" y="507.8" fill="#000">VII-VIII</text>
<rect x="1074.5" y="518.6" width="57" height="19" fill="#ff0000" stroke="#111" stroke-width="1.1"/>
<text class="lg" x="1103" y="531.9" fill="#000">VIII</text>
<text class="dv" x="1103.5" y="557.5" font-size="12" letter-spacing="0.42" text-anchor="middle" fill="#222">*non avvertito</text>
<path d="M1053.5 568H1152.5" stroke="#000" stroke-width="1" stroke-dasharray="2 2" fill="none"/>
<g class="dv" font-weight="bold" font-size="12.3" letter-spacing="0.35" text-anchor="middle" fill="#000"><text x="1103" y="584">Epicentro</text><text x="1103" y="600">strumentale</text></g>
<path d="M1100.6 613.0 L1102.8 619.4 L1109.6 619.6 L1104.2 623.7 L1106.2 630.2 L1100.6 626.3 L1095.0 630.2 L1097.0 623.7 L1091.6 619.6 L1098.4 619.4Z" fill="#fff" stroke="#000" stroke-width="1"/>
</g>
<g transform="translate(96,42) scale(0.068376)">
<clipPath id="gclip"><circle cx="527" cy="527" r="438"/></clipPath>
<circle cx="527" cy="527" r="438" fill="url(#gl)"/>
<g clip-path="url(#gclip)">
<path d="M570 285L668 95L1000 95L1000 1000L518 1000C540 760 560 500 570 285Z" fill="#cfc6d8"/>
<path d="M585 270L665 110L790 190L805 215L700 235Z" fill="#2aa03a"/>
<path d="M590 287L700 235L805 213L818 335L720 302Z" fill="#e2061e"/>
<path d="M805 205L880 270L950 400L960 440L812 352L818 330Z" fill="#c9bfd3"/>
<path d="M598 295L720 304L802 360L730 442L690 382Z" fill="#2aa03a"/>
<path d="M573 298L690 388L716 446L650 470L563 472Z" fill="#f2e213"/>
<path d="M802 363L925 470L882 542L810 612L770 522L730 446Z" fill="#f2e213"/>
<path d="M563 480L650 476L716 455L762 530L802 626L700 672L553 692Z" fill="#e2061e"/>
<path d="M814 616L890 546L932 478L975 530L950 660L905 745L850 785Z" fill="#c9bfd3"/>
<path d="M940 438L975 450L970 505L938 478Z" fill="#2aa03a"/>
<path d="M550 700L700 681L806 636L848 795L760 892L650 945L520 975Z" fill="#17953a"/>
<path d="M848 800L910 742L885 795L852 815Z" fill="#e2061e"/>
<g fill="none" stroke="#fff" stroke-width="9" stroke-linecap="round">
<path d="M570 285C562 500 548 720 522 968"/>
<path d="M570 285C470 300 250 340 85 530"/>
<path d="M570 285C430 400 300 600 232 850"/>
<path d="M570 285C540 210 500 150 462 102"/>
<path d="M570 285C500 250 420 225 345 212"/>
<path d="M462 108C380 140 340 200 348 290C360 390 450 465 563 472"/>
<path d="M185 283C165 420 230 560 340 640C420 690 500 700 553 697"/>
<path d="M95 590C150 720 250 830 380 890C440 910 490 915 527 912"/>
<path d="M585 270L665 112M590 287L805 213M598 295C700 300 780 340 940 440M573 298C660 360 760 480 850 800M563 475C650 475 730 440 802 362M553 695C680 680 800 640 930 478M527 912C650 900 760 870 850 800M805 213L818 335"/>
</g></g></g>
<g font-family="'Liberation Sans',sans-serif" font-weight="bold" font-size="13" fill="#3f3f3f">
<text x="169.6" y="75" textLength="88.8" lengthAdjust="spacingAndGlyphs">ISTITUTO NAZIONALE</text>
<text x="169.6" y="89.5" textLength="136" lengthAdjust="spacingAndGlyphs">DI GEOFISICA E VULCANOLOGIA</text>
</g>
<g>
<circle cx="1095.5" cy="916.3" r="32.3" fill="#1d1d1b"/>
<circle cx="1095.5" cy="916.3" r="18.8" fill="none" stroke="#e2061e" stroke-width="6.4"/>
<path d="M1100 911.5L1129 900.6Q1131 900.3 1131 902.5V930.5Q1131 934.5 1128.5 933.8L1100 921.5Z" fill="url(#cone)"/>
<path d="M1100 921.5L1128.5 933.8Q1131 934.5 1131 930.5V927L1103 917Z" fill="#0b5ea8" opacity="0.55"/>
<circle cx="1095.8" cy="916.3" r="8.2" fill="#e2061e"/>
<circle cx="1144.8" cy="916.5" r="10" fill="#e2061e"/>
<text transform="translate(1144.8,916.5) rotate(90)" x="0" y="5" text-anchor="middle" font-family="'Liberation Sans',sans-serif" font-weight="bold" font-size="14" fill="#fff">?</text>
<path id="hsarc" d="M1133.7 934.9A42.5 42.5 0 1 1 1132.7 895.7" fill="none"/>
<text font-family="'Liberation Sans',sans-serif" font-size="21.5" fill="#111"><textPath href="#hsarc" textLength="225" lengthAdjust="spacingAndGlyphs"><tspan fill="#e2061e">www.</tspan><tspan font-size="20.5">hai</tspan><tspan font-weight="bold">sentito</tspan><tspan font-style="italic" font-size="20.5">il</tspan><tspan font-weight="bold">terremoto</tspan><tspan fill="#e2061e">.it</tspan></textPath></text>
</g>
</svg></body></html>
